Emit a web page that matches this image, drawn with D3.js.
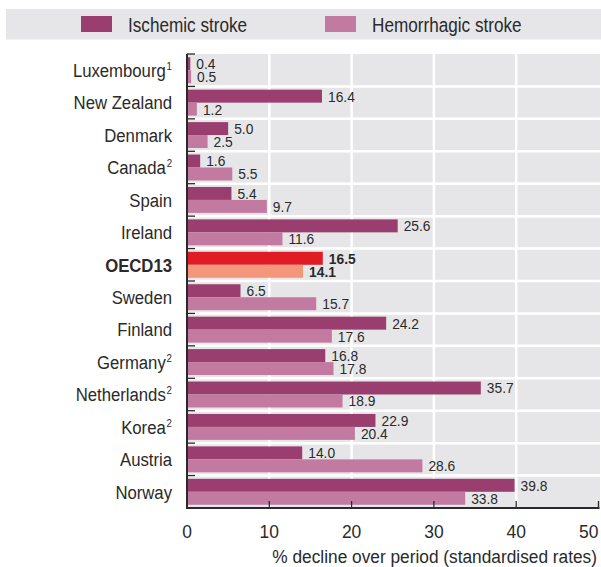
<!DOCTYPE html>
<html><head><meta charset="utf-8">
<script src="https://cdn.jsdelivr.net/npm/d3@7"></script>
<style>
body{margin:0;background:#fff;}
svg text{font-family:"Liberation Sans",Arial,sans-serif;fill:#2a2a2a;}
</style></head>
<body><svg id="c" width="601" height="567"></svg>
<script>
const categories=["Luxembourg","New Zealand","Denmark","Canada","Spain","Ireland","OECD13","Sweden","Finland","Germany","Netherlands","Korea","Austria","Norway"];
const notes=["1","","","2","","","","","","2","2","2","",""];
const ischemic=[0.4,16.4,5.0,1.6,5.4,25.6,16.5,6.5,24.2,16.8,35.7,22.9,14.0,39.8];
const hemorrhagic=[0.5,1.2,2.5,5.5,9.7,11.6,14.1,15.7,17.6,17.8,18.9,20.4,28.6,33.8];
const seriesNames=["Ischemic stroke","Hemorrhagic stroke"];
const xTicks=[0,10,20,30,40,50];
const highlight="OECD13";

const K=0.88; // condensed look
const colors={isch:"#9a3e6f",hem:"#c27aa1",ischH:"#e01b24",hemH:"#f4967a"};
const svg=d3.select("#c");
const L=187,R=598.5,T=54,B=508;
const x=d3.scaleLinear().domain([0,50]).range([L,R]);
const y=d3.scaleBand().domain(categories).range([T,B]).padding(0);
const sub=d3.scaleBand().domain(["isch","hem"]).range([0,y.bandwidth()]).paddingInner(0).paddingOuter(0.25);
function place(sel,fx,fy,k){k=k||K;return sel.attr("transform",(d,i)=>`translate(${typeof fx==="function"?fx(d,i):fx},${typeof fy==="function"?fy(d,i):fy}) scale(${k},1)`);}

// legend
svg.append("rect").attr("x",6).attr("y",9).attr("width",595).attr("height",30.5).attr("fill","#e6e6e8");
const leg=[{n:seriesNames[0],c:colors.isch,x:81,tx:128},{n:seriesNames[1],c:colors.hem,x:325,tx:372}];
leg.forEach(d=>{
  svg.append("rect").attr("x",d.x).attr("y",16).attr("width",31).attr("height",16).attr("fill",d.c);
  place(svg.append("text").attr("font-size",19.5).text(d.n),d.tx,31.5);
});

// plot background
svg.append("rect").attr("x",L).attr("y",T).attr("width",600-L).attr("height",B-T).attr("fill","#e6e6e8");
svg.selectAll(".vg").data(xTicks.filter(t=>t>0&&t<50)).enter().append("line")
 .attr("x1",d=>x(d)).attr("x2",d=>x(d)).attr("y1",T).attr("y2",B).attr("stroke","#fff").attr("stroke-width",2.5);
svg.selectAll(".hg").data(categories.slice(1)).enter().append("line")
 .attr("x1",L).attr("x2",600).attr("y1",d=>y(d)).attr("y2",d=>y(d)).attr("stroke","#fff").attr("stroke-width",2.5);

const rows=categories.map((c,i)=>({c,i,isch:ischemic[i],hem:hemorrhagic[i],h:c===highlight}));
const g=svg.selectAll(".row").data(rows).enter().append("g").attr("transform",d=>`translate(0,${y(d.c)})`);
["isch","hem"].forEach(k=>{
  g.append("rect").attr("x",L).attr("y",sub(k)).attr("height",sub.bandwidth())
   .attr("width",d=>x(d[k])-L).attr("fill",d=>d.h?colors[k+"H"]:colors[k]);
  place(g.append("text").attr("dy","0.36em")
   .attr("font-size",15).attr("font-weight",d=>d.h?"bold":"normal")
   .text(d=>d[k].toFixed(1)),d=>x(d[k])+6,sub(k)+sub.bandwidth()/2,0.92);
});
const cl=place(g.append("text").attr("dy","0.36em").attr("text-anchor","end")
 .attr("font-size",19).attr("font-weight",d=>d.h?"bold":"normal"),172,y.bandwidth()/2);
cl.append("tspan").text(d=>d.c);
cl.append("tspan").attr("font-size",11).attr("dx",1).attr("dy",-7).text(d=>notes[d.i]);

// axes
svg.append("line").attr("x1",L).attr("x2",L).attr("y1",T).attr("y2",B+1).attr("stroke","#2a2a2a").attr("stroke-width",2);
svg.append("line").attr("x1",L-1).attr("x2",R+1).attr("y1",B).attr("y2",B).attr("stroke","#2a2a2a").attr("stroke-width",2);
svg.selectAll(".lt").data(categories).enter().append("line")
 .attr("x1",L).attr("x2",L+8).attr("y1",d=>y(d)).attr("y2",d=>y(d)).attr("stroke","#2a2a2a").attr("stroke-width",1.3);
svg.selectAll(".bt").data(xTicks.filter(t=>t>0)).enter().append("line")
 .attr("x1",d=>x(d)).attr("x2",d=>x(d)).attr("y1",B).attr("y2",B-7).attr("stroke","#2a2a2a").attr("stroke-width",1.3);
place(svg.selectAll(".tl").data(xTicks).enter().append("text")
 .attr("text-anchor",d=>d===50?"end":"middle").attr("font-size",19).text(d=>d),d=>x(d),537.5,0.92);
place(svg.append("text").attr("text-anchor","end").attr("font-size",19)
 .text("% decline over period (standardised rates)"),597,562.5,0.91);
</script></body></html>
